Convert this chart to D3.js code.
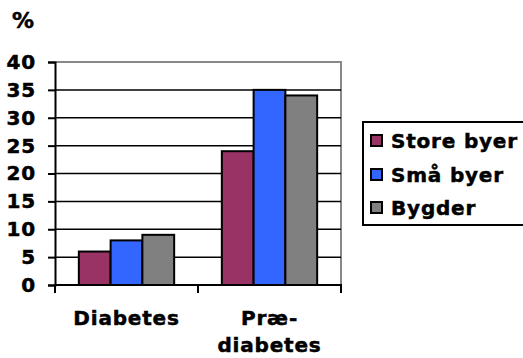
<!DOCTYPE html>
<html>
<head>
<meta charset="utf-8">
<script src="https://cdn.jsdelivr.net/npm/d3@7"></script>
<style>
  html, body { margin: 0; padding: 0; background: #fff; }
  svg { display: block; }
  text.lbl { font-family: "DejaVu Sans", Verdana, sans-serif; font-weight: bold; fill: #000;
             stroke: #000; stroke-width: 0.5px; letter-spacing: 0.8px; }
</style>
</head>
<body>
<svg id="chart" width="523" height="358"></svg>
<script>
// Prevalence of diabetes and pre-diabetes by settlement type (%)
const categories = ["Diabetes", "Præ-diabetes"];
const categoryLines = [["Diabetes"], ["Præ-", "diabetes"]];
const seriesNames = ["Store byer", "Små byer", "Bygder"];
const storeByer = [6, 24];
const smaaByer = [8, 35];
const bygder = [9, 34];
const seriesValues = [storeByer, smaaByer, bygder];
const seriesColors = ["#993366", "#3366FF", "#808080"];
const yTicks = [0, 5, 10, 15, 20, 25, 30, 35, 40];

const svg = d3.select("#chart");
const plot = { left: 55, right: 341, top: 62, bottom: 285 };
const fontSize = 20;

const x0 = d3.scaleBand().domain(categories).range([plot.left, plot.right]).paddingInner(0).paddingOuter(0);
const x1 = d3.scaleBand().domain(seriesNames).range([0, x0.bandwidth()]).paddingInner(0).paddingOuter(0.75);
const y = d3.scaleLinear().domain([0, 40]).range([plot.bottom, plot.top]);

// Plot area border (top and right in grey)
svg.append("path")
  .attr("d", `M${plot.left},${plot.top}H${plot.right}V${plot.bottom}`)
  .attr("fill", "none").attr("stroke", "#888").attr("stroke-width", 2);

// Horizontal gridlines
svg.append("g").selectAll("line")
  .data(yTicks.filter(t => t > 0 && t < 40))
  .join("line")
  .attr("x1", plot.left).attr("x2", plot.right)
  .attr("y1", d => y(d)).attr("y2", d => y(d))
  .attr("stroke", "#000").attr("stroke-width", 1.5);

// Bars
const groups = svg.append("g").selectAll("g")
  .data(categories)
  .join("g")
  .attr("transform", d => `translate(${x0(d)},0)`);

groups.selectAll("rect")
  .data((c, i) => seriesNames.map((s, j) => ({ s, v: seriesValues[j][i], color: seriesColors[j] })))
  .join("rect")
  .attr("x", d => x1(d.s))
  .attr("y", d => y(d.v))
  .attr("width", x1.bandwidth())
  .attr("height", d => y(0) - y(d.v))
  .attr("fill", d => d.color)
  .attr("stroke", "#000")
  .attr("stroke-width", 2);

// Y axis
const yAxis = svg.append("g")
  .attr("transform", `translate(${plot.left},0)`)
  .call(d3.axisLeft(y).tickValues(yTicks).tickSize(7).tickPadding(12));
yAxis.attr("font-size", null).attr("font-family", null);
yAxis.select(".domain").attr("stroke", "#000").attr("stroke-width", 2);
yAxis.selectAll(".tick line").attr("stroke", "#000").attr("stroke-width", 2);
yAxis.selectAll(".tick text")
  .attr("class", "lbl")
  .attr("font-size", fontSize);

// X axis with tick marks at category boundaries
const xAxis = svg.append("g").attr("transform", `translate(0,${plot.bottom})`);
xAxis.append("line")
  .attr("x1", plot.left).attr("x2", plot.right)
  .attr("stroke", "#000").attr("stroke-width", 2);
const boundaries = [plot.left, ...categories.slice(1).map(c => x0(c)), plot.right];
xAxis.selectAll(".xtick")
  .data(boundaries)
  .join("line")
  .attr("class", "xtick")
  .attr("x1", d => d).attr("x2", d => d)
  .attr("y1", -1).attr("y2", 8)
  .attr("stroke", "#000").attr("stroke-width", 2);

// Category labels
categoryLines.forEach((lines, i) => {
  const cx = x0(categories[i]) + x0.bandwidth() / 2;
  const t = svg.append("text")
    .attr("class", "lbl")
    .attr("x", cx)
    .attr("y", 325)
    .attr("text-anchor", "middle")
    .attr("font-size", fontSize);
  lines.forEach((ln, k) => {
    t.append("tspan")
      .attr("x", cx)
      .attr("dy", k === 0 ? 0 : 27)
      .text(ln);
  });
});

// Unit label
svg.append("text").attr("class", "lbl").attr("x", 12).attr("y", 28).attr("font-size", 22).text("%");

// Legend
const legend = svg.append("g");
legend.append("rect")
  .attr("x", 363).attr("y", 122).attr("width", 170).attr("height", 103)
  .attr("fill", "#fff").attr("stroke", "#000").attr("stroke-width", 2);
const rowY = [141, 175, 208];
seriesNames.forEach((s, j) => {
  legend.append("rect")
    .attr("x", 371).attr("y", rowY[j] - 6).attr("width", 11).attr("height", 11)
    .attr("fill", seriesColors[j]).attr("stroke", "#000").attr("stroke-width", 2);
  legend.append("text")
    .attr("class", "lbl")
    .attr("x", 391).attr("y", rowY[j] + 7)
    .attr("font-size", fontSize)
    .text(s);
});
</script>
</body>
</html>
